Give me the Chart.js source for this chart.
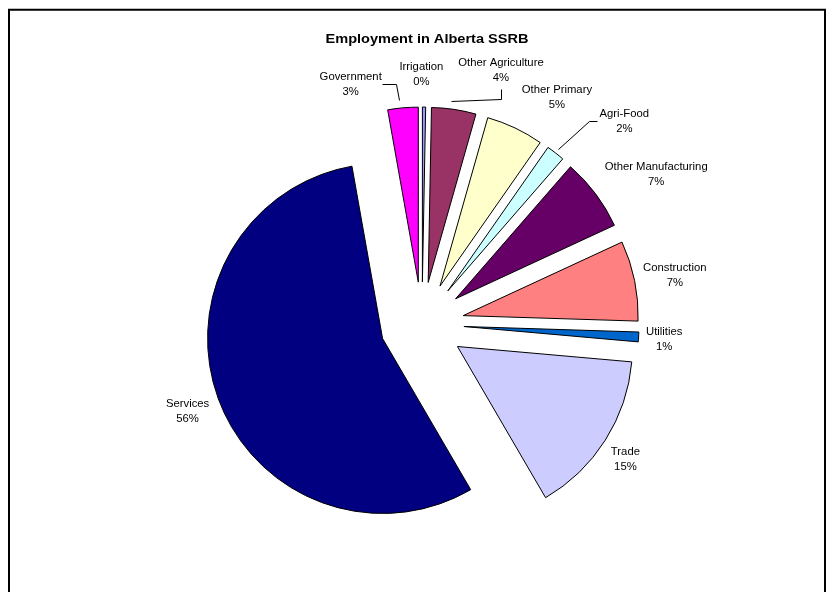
<!DOCTYPE html>
<html>
<head>
<meta charset="utf-8">
<title>Employment in Alberta SSRB</title>
<script src="https://cdn.jsdelivr.net/npm/chart.js@4.4.1/dist/chart.umd.min.js"></script>
<style>
  html, body { margin: 0; padding: 0; background: #ffffff; }
  #wrap { position: relative; width: 833px; height: 592px; }
</style>
</head>
<body>
<div id="wrap"><canvas id="chart" width="833" height="592"></canvas></div>
<script>
// Employment share by sector (percent of total), clockwise from 12 o'clock
const categories = [
  'Irrigation', 'Other Agriculture', 'Other Primary', 'Agri-Food',
  'Other Manufacturing', 'Construction', 'Utilities', 'Trade',
  'Services', 'Government'
];
const employmentShare = [0.3, 4.1, 5.3, 1.7, 6.7, 7.4, 0.9, 15.2, 55.6, 2.8];
const sliceColors = [
  '#9999FF', '#993366', '#FFFFCC', '#CCFFFF', '#660066',
  '#FF8080', '#0066CC', '#CCCCFF', '#000080', '#FF00FF'
];
const chartTitle = 'Employment in Alberta SSRB';

// Layout: distance each slice is pulled out from the centre, in px
const EXPLODE = 42;
// Label block centres, relative to the pie centre (same order as categories)
const labelOffsets = [
  [-0.6, -249.4], [79, -253.4], [134.9, -226.6], [202.3, -203.1],
  [234.2, -149.5], [252.8, -48.5], [242.2, 15.4], [203.4, 135.5],
  [-234.4, 87.5], [-71.3, -239.6]
];
// Leader lines for labels that sit away from their slice, relative to the pie centre
const leaderLines = {
  1: [[79, -235.5], [79, -224.7], [29, -223]],
  3: [[175, -203], [167, -203], [136, -175.5]],
  9: [[-40, -239.7], [-26, -239.7], [-23.5, -224]]
};

const LABEL_FONT = '11.3px "Liberation Sans", Arial, sans-serif';
const TITLE_FONT = 'bold 13px "Liberation Sans", Arial, sans-serif';

// Frame around the chart
const framePlugin = {
  id: 'frame',
  beforeDraw(chart) {
    const ctx = chart.ctx;
    ctx.save();
    ctx.fillStyle = '#ffffff';
    ctx.fillRect(0, 0, chart.width, chart.height);
    ctx.strokeStyle = '#000000';
    ctx.lineWidth = 2;
    ctx.beginPath();
    ctx.moveTo(9, chart.height + 2);
    ctx.lineTo(9, 9.7);
    ctx.lineTo(825, 9.7);
    ctx.lineTo(825, chart.height + 2);
    ctx.stroke();
    ctx.restore();
  }
};

// Draw every slice pulled out along its middle angle
const explodePlugin = {
  id: 'explode',
  beforeDatasetDraw(chart, args) {
    const ctx = chart.ctx;
    args.meta.data.forEach(arc => {
      const mid = (arc.startAngle + arc.endAngle) / 2;
      ctx.save();
      ctx.translate(Math.cos(mid) * EXPLODE, Math.sin(mid) * EXPLODE);
      arc.draw(ctx, chart.chartArea);
      ctx.restore();
    });
    return false;
  }
};

// Title, category / percent labels and leader lines
const labelPlugin = {
  id: 'sliceLabels',
  afterDatasetsDraw(chart) {
    const ctx = chart.ctx;
    const meta = chart.getDatasetMeta(0);
    const values = chart.data.datasets[0].data;
    const total = values.reduce((a, b) => a + b, 0);
    const cx = meta.data[0].x;
    const cy = meta.data[0].y;

    ctx.save();
    // title
    ctx.fillStyle = '#000000';
    ctx.font = TITLE_FONT;
    ctx.textAlign = 'center';
    ctx.textBaseline = 'middle';
    ctx.save();
    ctx.translate(427, 39);
    ctx.scale(1.12, 1);
    ctx.fillText(chartTitle, 0, 0);
    ctx.restore();

    // leader lines
    ctx.strokeStyle = '#000000';
    ctx.lineWidth = 1;
    Object.keys(leaderLines).forEach(k => {
      const pts = leaderLines[k];
      ctx.beginPath();
      pts.forEach((p, i) => {
        const x = Math.round(cx + p[0]) + 0.5;
        const y = Math.round(cy + p[1]) + 0.5;
        if (i === 0) ctx.moveTo(x, y); else ctx.lineTo(x, y);
      });
      ctx.stroke();
    });

    // labels
    ctx.font = LABEL_FONT;
    chart.data.labels.forEach((name, i) => {
      const pct = Math.round(values[i] / total * 100) + '%';
      const x = cx + labelOffsets[i][0];
      const y = cy + labelOffsets[i][1];
      ctx.fillText(name, x, y - 7.5);
      ctx.fillText(pct, x, y + 7.5);
    });
    ctx.restore();
  }
};

new Chart(document.getElementById('chart'), {
  type: 'pie',
  data: {
    labels: categories,
    datasets: [{
      data: employmentShare,
      backgroundColor: sliceColors,
      borderColor: '#000000',
      borderWidth: 1,
      borderJoinStyle: 'bevel'
    }]
  },
  options: {
    responsive: false,
    animation: false,
    devicePixelRatio: 1,
    events: [],
    radius: 175,
    rotation: 0,
    layout: { padding: { left: 11, right: 0, top: 56, bottom: 0 } },
    plugins: {
      legend: { display: false },
      title: { display: false },
      tooltip: { enabled: false }
    }
  },
  plugins: [framePlugin, explodePlugin, labelPlugin]
});
</script>
</body>
</html>
